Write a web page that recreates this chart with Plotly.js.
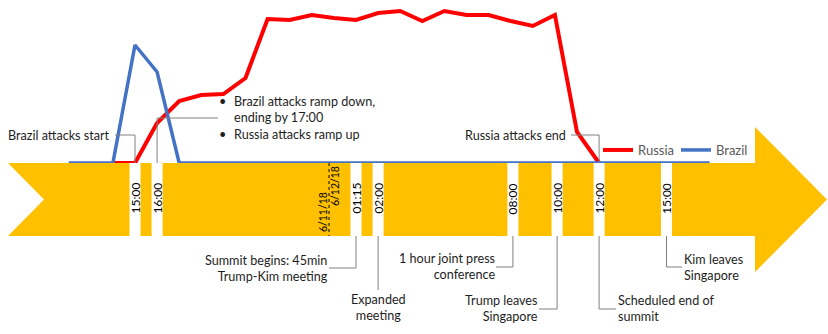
<!DOCTYPE html>
<html>
<head>
<meta charset="utf-8">
<script src="https://cdn.plot.ly/plotly-3.0.1.min.js"></script>
<style>
  html, body { margin: 0; padding: 0; background: #ffffff; overflow: hidden; }
  #chart { width: 828px; height: 334px; }
</style>
</head>
<body>
<div id="chart"></div>
<script>
// ---------------- DATA ----------------
// Hours counted from 2018-06-11 00:00 (24 = midnight into 6/12/18)
const russiaHours  = [14, 15, 16, 17, 18, 19, 20, 21, 22, 23, 24, 25, 26, 27, 28, 29, 30, 31, 32, 33, 34, 35, 36];
const russiaValues = [0, 0, 40, 62, 68, 69, 85, 144, 143, 148, 145, 143, 150, 152, 142, 152, 148, 148, 142, 137, 148, 31, 0];

const brazilHours  = [12, 13, 14, 15, 16, 17, 18, 19, 20, 21, 22, 23, 24, 25, 26, 27, 28, 29, 30, 31, 32, 33, 34, 35, 36, 37, 38, 39, 40, 41];
const brazilValues = [0, 0, 0, 118, 91, 0, 0, 0, 0, 0, 0, 0, 0, 0, 0, 0, 0, 0, 0, 0, 0, 0, 0, 0, 0, 0, 0, 0, 0, 0];

// Time markers on the arrow (positions)
const tickHours  = [15, 16, 25, 26, 32.1, 34.1, 36, 39.05];
const tickLabels = ['15:00', '16:00', '01:15', '02:00', '08:00', '10:00', '12:00', '15:00'];

const dateBoundaryHour = 23.78;
const dateLabels = ['6/11/18', '6/12/18'];

// Event notes
const noteBrazilStart = 'Brazil attacks start';
const noteRamp = ['Brazil attacks ramp down,', 'ending by 17:00', 'Russia attacks ramp up'];
const noteRussiaEnd = 'Russia attacks end';
const bottomNotes = [
  'Summit begins: 45min<br>Trump-Kim meeting',
  'Expanded<br>meeting',
  '1 hour joint press<br>conference',
  'Trump leaves<br>Singapore',
  'Scheduled end of<br>summit',
  'Kim leaves<br>Singapore'
];

// ---------------- LAYOUT HELPERS ----------------
const W = 828, H = 334;
const PX_PER_HOUR = 22.1;
const X0 = 15 - 135 / PX_PER_HOUR;          // hour at left page edge
const X1 = X0 + W / PX_PER_HOUR;
const BASE_PX = 163;                         // pixel row of value 0
const px = x => x / W;                       // pixel -> paper
const py = y => 1 - y / H;
const hx = h => (h - X0) * PX_PER_HOUR;      // hour -> pixel (for note offsets)

const FONT = 'Lato, "Open Sans", sans-serif';
const TXT = '#1e1e1e';
const CALLOUT = '#808080';
const ARROW = '#FFC000';
const NOTE_SIZE = 12.6;

const BODY_TOP = 163, BODY_BOT = 236, MID = 199.5;

const shapes = [];
// Arrow body with notched tail and head
shapes.push({
  type: 'path', xref: 'paper', yref: 'paper', layer: 'above',
  path: `M ${px(8)},${py(BODY_TOP)} L ${px(755)},${py(BODY_TOP)} L ${px(755)},${py(127)} L ${px(827)},${py(MID)} L ${px(755)},${py(272)} L ${px(755)},${py(BODY_BOT)} L ${px(8)},${py(BODY_BOT)} L ${px(44)},${py(MID)} Z`,
  fillcolor: ARROW, line: { width: 0 }
});
// White gaps at each marker
tickHours.forEach(h => {
  shapes.push({
    type: 'rect', xref: 'x', yref: 'paper', layer: 'above',
    x0: h - 0.25, x1: h + 0.25, y0: py(BODY_BOT), y1: py(BODY_TOP),
    fillcolor: '#ffffff', line: { width: 0 }
  });
});
// Date boundary dotted line
shapes.push({
  type: 'line', xref: 'x', yref: 'paper', layer: 'above',
  x0: dateBoundaryHour, x1: dateBoundaryHour, y0: py(BODY_TOP), y1: py(BODY_BOT),
  line: { color: '#000000', width: 1, dash: 'dot' }
});

function callout(points) {
  const d = points.map((p, i) => (i ? 'L ' : 'M ') + px(p[0]) + ',' + py(p[1])).join(' ');
  shapes.push({ type: 'path', xref: 'paper', yref: 'paper', layer: 'above', path: d,
                line: { color: CALLOUT, width: 1 } });
}
const lastR = russiaHours[russiaHours.length - 1];
// top callouts
callout([[115, 135], [hx(russiaHours[1]), 135], [hx(russiaHours[1]), BASE_PX]]);
callout([[218, 118], [hx(16), 118], [hx(16), BASE_PX]]);
callout([[571, 135], [hx(lastR), 135], [hx(lastR), BASE_PX]]);
// bottom callouts
callout([[hx(tickHours[2]), BODY_BOT], [hx(tickHours[2]), 268], [329, 268]]);
callout([[hx(tickHours[3]), BODY_BOT], [hx(tickHours[3]), 290]]);
callout([[hx(tickHours[4]), BODY_BOT], [hx(tickHours[4]), 267], [496, 267]]);
callout([[hx(tickHours[5]), BODY_BOT], [hx(tickHours[5]), 309], [539, 309]]);
callout([[hx(tickHours[6]), BODY_BOT], [hx(tickHours[6]), 309], [616, 309]]);
callout([[hx(tickHours[7]), BODY_BOT], [hx(tickHours[7]), 267], [682, 267]]);

const annotations = [];
function note(text, x, y, xanchor, align) {
  annotations.push({
    text: text, xref: 'paper', yref: 'paper', x: px(x), y: py(y),
    xanchor: xanchor, yanchor: 'middle', align: align, showarrow: false,
    borderpad: 0, borderwidth: 0,
    font: { family: FONT, size: NOTE_SIZE, color: TXT }
  });
}
function rotated(text, xHour, yPix, size) {
  annotations.push({
    text: text, xref: 'x', yref: 'paper', x: xHour, y: py(yPix),
    xanchor: 'center', yanchor: 'middle', textangle: -90, showarrow: false,
    borderpad: 0, borderwidth: 0,
    font: { family: FONT, size: size, color: '#000000' }
  });
}
tickHours.forEach((h, i) => rotated(tickLabels[i], h, 198.5, 12));
rotated(dateLabels[0], dateBoundaryHour - 0.27, 212, 10.5);
rotated(dateLabels[1], dateBoundaryHour + 0.27, 186, 10.5);

note(noteBrazilStart, 110, 135, 'right', 'right');
note('•<br><br>•', 219, 118, 'left', 'left');
note(noteRamp.join('<br>'), 234, 118, 'left', 'left');
note(noteRussiaEnd, 566, 135, 'right', 'right');

note(bottomNotes[0], 328, 268.5, 'right', 'right');
note(bottomNotes[1], hx(tickHours[3]), 307.5, 'center', 'center');
note(bottomNotes[2], 495, 266.5, 'right', 'right');
note(bottomNotes[3], 538, 308.5, 'right', 'right');
note(bottomNotes[4], 618, 308.5, 'left', 'left');
note(bottomNotes[5], 684, 267, 'left', 'left');

const traces = [
  { x: russiaHours, y: russiaValues, type: 'scatter', mode: 'lines', name: 'Russia',
    line: { color: '#FF0000', width: 4 }, hoverinfo: 'skip' },
  { x: brazilHours, y: brazilValues, type: 'scatter', mode: 'lines', name: 'Brazil',
    line: { color: '#4472C4', width: 3.5 }, hoverinfo: 'skip' }
];

const layout = {
  width: W, height: H,
  margin: { l: 0, r: 0, t: 0, b: 0, pad: 0, autoexpand: false },
  paper_bgcolor: '#ffffff', plot_bgcolor: '#ffffff',
  xaxis: { range: [X0, X1], visible: false, fixedrange: true },
  yaxis: { range: [BASE_PX - H, BASE_PX], visible: false, fixedrange: true },
  showlegend: true,
  legend: {
    orientation: 'h', x: px(598), xanchor: 'left', y: py(150), yanchor: 'middle',
    font: { family: FONT, size: 13, color: '#595959' },
    bgcolor: 'rgba(0,0,0,0)', entrywidth: 33, entrywidthmode: 'pixels'
  },
  shapes: shapes,
  annotations: annotations,
  font: { family: FONT }
};

Plotly.newPlot('chart', traces, layout, { staticPlot: true, displayModeBar: false });
</script>
</body>
</html>
